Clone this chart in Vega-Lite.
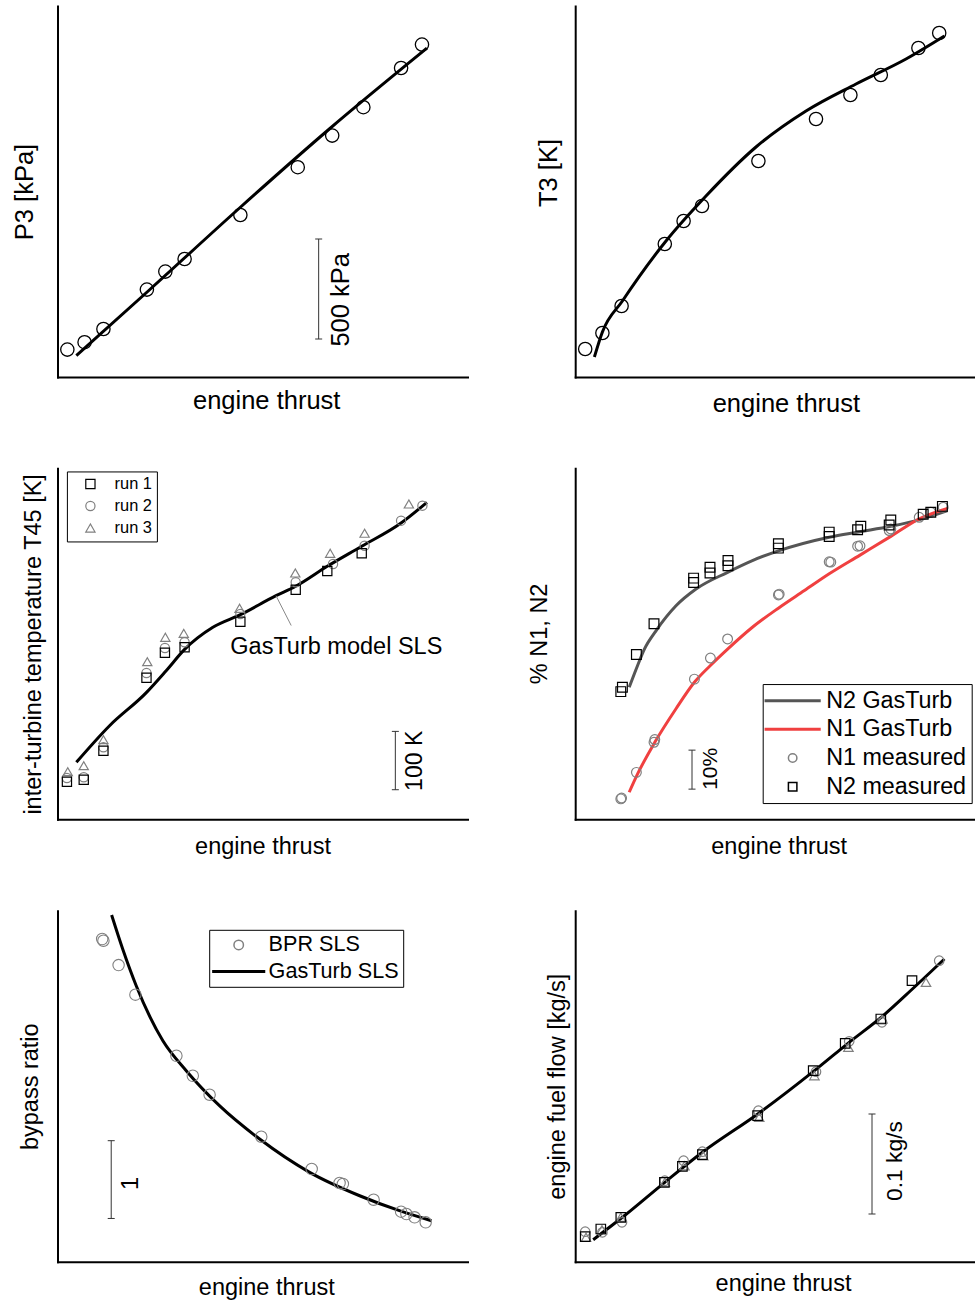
{
  "$schema": "https://vega.github.io/schema/vega-lite/v6.json",
  "padding": {"left": 12.5, "top": 6, "right": 0, "bottom": 0},
  "autosize": {"type": "pad"},
  "config": {
    "view": {"stroke": null},
    "font": "Liberation Sans",
    "axis": {"domainColor": "black", "domainWidth": 2, "domainCap": "square", "ticks": false, "labels": false, "grid": false, "titleFontWeight": "normal", "titleColor": "black", "titleFont": "Liberation Sans", "titleFontSize": 23.5},
    "legend": {"labelFont": "Liberation Sans", "labelColor": "black", "strokeColor": "black", "fillColor": "white"},
    "text": {"font": "Liberation Sans", "color": "black"}
  },
  "datasets": {
    "p1_meas": [{"thrust":2.4,"value":137},{"thrust":6.6,"value":174},{"thrust":11.2,"value":240},{"thrust":21.8,"value":437},{"thrust":26.3,"value":527},{"thrust":31.0,"value":590},{"thrust":44.6,"value":810},{"thrust":58.6,"value":1049},{"thrust":67.0,"value":1207},{"thrust":74.6,"value":1349},{"thrust":83.8,"value":1545},{"thrust":88.9,"value":1662}],
    "p1_model": [{"thrust":4.6,"value":107},{"thrust":22.4,"value":435},{"thrust":44.4,"value":845},{"thrust":66.3,"value":1240},{"thrust":90.1,"value":1644}],
    "p1_bar": [{"thrust":63.7,"value":190},{"thrust":63.7,"value":690}],
    "p1_label": [{"thrust":69.2,"value":386,"label":"500 kPa"}],
    "p2_meas": [{"thrust":2.5,"value":528},{"thrust":6.8,"value":544},{"thrust":11.6,"value":571},{"thrust":22.4,"value":633},{"thrust":27.1,"value":656},{"thrust":31.7,"value":671},{"thrust":45.8,"value":716},{"thrust":60.2,"value":758},{"thrust":68.8,"value":782},{"thrust":76.4,"value":802},{"thrust":85.8,"value":829},{"thrust":91.0,"value":844}],
    "p2_model": [{"thrust":4.8,"value":520},{"thrust":6.8,"value":545},{"thrust":11.8,"value":576},{"thrust":22.7,"value":636},{"thrust":32.7,"value":681},{"thrust":45.2,"value":730},{"thrust":57.7,"value":766},{"thrust":70.2,"value":793},{"thrust":82.7,"value":818},{"thrust":92.3,"value":841}],
    "p3_meas": [
      {"thrust":2.3,"value":668.6,"run":"run 2"},{"thrust":6.4,"value":669.8,"run":"run 2"},{"thrust":11.2,"value":721.2,"run":"run 2"},{"thrust":21.7,"value":848.6,"run":"run 2"},{"thrust":26.2,"value":891.4,"run":"run 2"},{"thrust":31.0,"value":901.2,"run":"run 2"},{"thrust":44.6,"value":949.7,"run":"run 2"},{"thrust":58.1,"value":1004.1,"run":"run 2"},{"thrust":67.2,"value":1035.4,"run":"run 2"},{"thrust":74.9,"value":1066.8,"run":"run 2"},{"thrust":83.8,"value":1109.7,"run":"run 2"},{"thrust":89.0,"value":1135.4,"run":"run 2"},
      {"thrust":2.5,"value":679.4,"run":"run 3"},{"thrust":6.4,"value":689.7,"run":"run 3"},{"thrust":11.2,"value":734.2,"run":"run 3"},{"thrust":21.9,"value":867.9,"run":"run 3"},{"thrust":26.3,"value":909.8,"run":"run 3"},{"thrust":30.8,"value":916.6,"run":"run 3"},{"thrust":44.4,"value":959.5,"run":"run 3"},{"thrust":58.0,"value":1020,"run":"run 3"},{"thrust":66.5,"value":1053.8,"run":"run 3"},{"thrust":74.9,"value":1088.1,"run":"run 3"},{"thrust":85.7,"value":1138.3,"run":"run 3"},
      {"thrust":2.3,"value":662.2,"run":"run 1"},{"thrust":6.4,"value":665.7,"run":"run 1"},{"thrust":11.2,"value":715.4,"run":"run 1"},{"thrust":21.7,"value":840.5,"run":"run 1"},{"thrust":26.2,"value":883.4,"run":"run 1"},{"thrust":31.0,"value":892.6,"run":"run 1"},{"thrust":44.6,"value":936.5,"run":"run 1"},{"thrust":58.1,"value":991.4,"run":"run 1"},{"thrust":65.8,"value":1023.4,"run":"run 1"},{"thrust":74.2,"value":1053.8,"run":"run 1"}
    ],
    "p3_model": [{"thrust":4.6,"value":695.5},{"thrust":12.7,"value":758.2},{"thrust":21.6,"value":814.5},{"thrust":26.5,"value":852.5},{"thrust":31.0,"value":889.0},{"thrust":37.9,"value":926.9},{"thrust":44.6,"value":948.5},{"thrust":53.3,"value":981.1},{"thrust":58.1,"value":997.2},{"thrust":65.8,"value":1031.5},{"thrust":74.2,"value":1065.8},{"thrust":83.8,"value":1105.7},{"thrust":90.1,"value":1141.2}],
    "p3_leader": [{"thrust":53.3,"value":981},{"thrust":57.0,"value":930}],
    "p3_bar": [{"thrust":82.4,"value":648.5},{"thrust":82.4,"value":748.5}],
    "p3_label": [{"thrust":87.1,"value":698,"label":"100 K"}],
    "p3_note": [{"thrust":68.0,"value":894,"label":"GasTurb model SLS"}],
    "p4_model": [
      {"thrust":13.5,"value":43.5,"series":"N2 GasTurb"},{"thrust":15.6,"value":49.1,"series":"N2 GasTurb"},{"thrust":17.3,"value":53.3,"series":"N2 GasTurb"},{"thrust":20.2,"value":58.0,"series":"N2 GasTurb"},{"thrust":25.2,"value":64.4,"series":"N2 GasTurb"},{"thrust":30.2,"value":68.7,"series":"N2 GasTurb"},{"thrust":38.1,"value":73.0,"series":"N2 GasTurb"},{"thrust":44.3,"value":76.0,"series":"N2 GasTurb"},{"thrust":50.8,"value":78.5,"series":"N2 GasTurb"},{"thrust":63.5,"value":82.0,"series":"N2 GasTurb"},{"thrust":71.2,"value":83.4,"series":"N2 GasTurb"},{"thrust":78.9,"value":84.8,"series":"N2 GasTurb"},{"thrust":86.8,"value":86.7,"series":"N2 GasTurb"},{"thrust":93.1,"value":88.8,"series":"N2 GasTurb"},
      {"thrust":13.5,"value":16.6,"series":"N1 GasTurb"},{"thrust":15.6,"value":21.3,"series":"N1 GasTurb"},{"thrust":19.9,"value":29.4,"series":"N1 GasTurb"},{"thrust":25.2,"value":38.0,"series":"N1 GasTurb"},{"thrust":29.8,"value":44.8,"series":"N1 GasTurb"},{"thrust":33.8,"value":49.1,"series":"N1 GasTurb"},{"thrust":38.1,"value":53.3,"series":"N1 GasTurb"},{"thrust":44.3,"value":58.9,"series":"N1 GasTurb"},{"thrust":50.8,"value":63.8,"series":"N1 GasTurb"},{"thrust":57.3,"value":68.3,"series":"N1 GasTurb"},{"thrust":63.5,"value":72.6,"series":"N1 GasTurb"},{"thrust":71.2,"value":77.4,"series":"N1 GasTurb"},{"thrust":78.9,"value":82.2,"series":"N1 GasTurb"},{"thrust":86.0,"value":86.7,"series":"N1 GasTurb"},{"thrust":93.1,"value":89.4,"series":"N1 GasTurb"}
    ],
    "p4_meas": [
      {"thrust":11.6,"value":15.1,"series":"N1 measured"},{"thrust":11.4,"value":14.9,"series":"N1 measured"},{"thrust":15.3,"value":21.7,"series":"N1 measured"},{"thrust":19.7,"value":29.4,"series":"N1 measured"},{"thrust":19.9,"value":30.1,"series":"N1 measured"},{"thrust":29.8,"value":45.6,"series":"N1 measured"},{"thrust":33.8,"value":51.0,"series":"N1 measured"},{"thrust":38.1,"value":55.9,"series":"N1 measured"},{"thrust":50.8,"value":67.2,"series":"N1 measured"},{"thrust":51.0,"value":67.4,"series":"N1 measured"},{"thrust":63.5,"value":75.7,"series":"N1 measured"},{"thrust":63.9,"value":75.6,"series":"N1 measured"},{"thrust":71.2,"value":79.8,"series":"N1 measured"},{"thrust":70.6,"value":79.7,"series":"N1 measured"},{"thrust":78.9,"value":84.1,"series":"N1 measured"},{"thrust":78.5,"value":83.7,"series":"N1 measured"},{"thrust":86.0,"value":87.1,"series":"N1 measured"},{"thrust":88.9,"value":88.4,"series":"N1 measured"},{"thrust":92.0,"value":89.7,"series":"N1 measured"},
      {"thrust":11.4,"value":42.4,"series":"N2 measured"},{"thrust":11.8,"value":43.5,"series":"N2 measured"},{"thrust":15.3,"value":51.9,"series":"N2 measured"},{"thrust":19.7,"value":59.8,"series":"N2 measured"},{"thrust":29.6,"value":71.5,"series":"N2 measured"},{"thrust":29.6,"value":70.4,"series":"N2 measured"},{"thrust":33.7,"value":74.3,"series":"N2 measured"},{"thrust":33.7,"value":72.8,"series":"N2 measured"},{"thrust":38.2,"value":76.0,"series":"N2 measured"},{"thrust":38.2,"value":74.7,"series":"N2 measured"},{"thrust":50.8,"value":80.3,"series":"N2 measured"},{"thrust":50.8,"value":79.2,"series":"N2 measured"},{"thrust":63.5,"value":83.3,"series":"N2 measured"},{"thrust":63.5,"value":82.2,"series":"N2 measured"},{"thrust":70.6,"value":83.9,"series":"N2 measured"},{"thrust":71.4,"value":84.8,"series":"N2 measured"},{"thrust":78.9,"value":86.4,"series":"N2 measured"},{"thrust":78.5,"value":85.1,"series":"N2 measured"},{"thrust":87.0,"value":87.9,"series":"N2 measured"},{"thrust":88.9,"value":88.4,"series":"N2 measured"},{"thrust":91.8,"value":89.9,"series":"N2 measured"}
    ],
    "p4_bar": [{"thrust":29.2,"value":17.4},{"thrust":29.2,"value":27.4}],
    "p4_label": [{"thrust":33.9,"value":22.6,"label":"10%"}],
    "p5_meas": [{"thrust":11.2,"value":6.131,"series":"BPR SLS"},{"thrust":10.9,"value":6.153,"series":"BPR SLS"},{"thrust":14.9,"value":5.818,"series":"BPR SLS"},{"thrust":19.0,"value":5.437,"series":"BPR SLS"},{"thrust":29.0,"value":4.652,"series":"BPR SLS"},{"thrust":33.0,"value":4.395,"series":"BPR SLS"},{"thrust":37.1,"value":4.151,"series":"BPR SLS"},{"thrust":49.7,"value":3.611,"series":"BPR SLS"},{"thrust":62.0,"value":3.196,"series":"BPR SLS"},{"thrust":69.6,"value":3.003,"series":"BPR SLS"},{"thrust":68.8,"value":3.016,"series":"BPR SLS"},{"thrust":77.1,"value":2.801,"series":"BPR SLS"},{"thrust":83.8,"value":2.647,"series":"BPR SLS"},{"thrust":85.1,"value":2.617,"series":"BPR SLS"},{"thrust":87.1,"value":2.575,"series":"BPR SLS"},{"thrust":89.8,"value":2.51,"series":"BPR SLS"}],
    "p5_model": [{"thrust":13.2,"value":6.461},{"thrust":15.9,"value":6.024},{"thrust":19.2,"value":5.552},{"thrust":25.7,"value":4.845},{"thrust":31.4,"value":4.46},{"thrust":39.5,"value":4.01},{"thrust":49.3,"value":3.581},{"thrust":61.5,"value":3.153},{"thrust":73.7,"value":2.852},{"thrust":83.4,"value":2.66},{"thrust":91.2,"value":2.531}],
    "p5_bar": [{"thrust":13.1,"value":2.56},{"thrust":13.1,"value":3.56}],
    "p5_label": [{"thrust":18.0,"value":3.01,"label":"1"}],
    "p6_meas": [
      {"thrust":2.5,"value":0.0803,"run":"run 2"},{"thrust":6.8,"value":0.0797,"run":"run 2"},{"thrust":11.7,"value":0.0897,"run":"run 2"},{"thrust":22.4,"value":0.1313,"run":"run 2"},{"thrust":27.1,"value":0.1513,"run":"run 2"},{"thrust":31.8,"value":0.1603,"run":"run 2"},{"thrust":45.8,"value":0.2013,"run":"run 2"},{"thrust":60.2,"value":0.2403,"run":"run 2"},{"thrust":68.5,"value":0.2707,"run":"run 2"},{"thrust":76.7,"value":0.2897,"run":"run 2"},{"thrust":91.0,"value":0.3513,"run":"run 2"},
      {"thrust":2.7,"value":0.0747,"run":"run 3"},{"thrust":6.7,"value":0.0823,"run":"run 3"},{"thrust":11.4,"value":0.0947,"run":"run 3"},{"thrust":22.4,"value":0.1297,"run":"run 3"},{"thrust":27.3,"value":0.1463,"run":"run 3"},{"thrust":32.0,"value":0.1563,"run":"run 3"},{"thrust":46.0,"value":0.1947,"run":"run 3"},{"thrust":59.8,"value":0.2363,"run":"run 3"},{"thrust":68.3,"value":0.2647,"run":"run 3"},{"thrust":76.8,"value":0.293,"run":"run 3"},{"thrust":87.7,"value":0.3297,"run":"run 3"},
      {"thrust":2.5,"value":0.0753,"run":"run 1"},{"thrust":6.4,"value":0.083,"run":"run 1"},{"thrust":11.4,"value":0.0947,"run":"run 1"},{"thrust":22.3,"value":0.1297,"run":"run 1"},{"thrust":26.8,"value":0.1457,"run":"run 1"},{"thrust":31.8,"value":0.1573,"run":"run 1"},{"thrust":45.6,"value":0.1963,"run":"run 1"},{"thrust":59.5,"value":0.2413,"run":"run 1"},{"thrust":67.5,"value":0.2687,"run":"run 1"},{"thrust":76.4,"value":0.293,"run":"run 1"},{"thrust":84.2,"value":0.3313,"run":"run 1"}
    ],
    "p6_model": [{"thrust":4.5,"value":0.0723},{"thrust":11.8,"value":0.0947},{"thrust":22.7,"value":0.1307},{"thrust":31.8,"value":0.1597},{"thrust":46.0,"value":0.199},{"thrust":59.8,"value":0.2413},{"thrust":68.5,"value":0.2697},{"thrust":76.8,"value":0.2957},{"thrust":84.3,"value":0.323},{"thrust":92.3,"value":0.353}],
    "p6_bar": [{"thrust":74.2,"value":0.098},{"thrust":74.2,"value":0.198}],
    "p6_label": [{"thrust":80.0,"value":0.151,"label":"0.1 kg/s"}]
  },
  "columns": 2,
  "spacing": {"row": 91.35, "column": 107.7},
  "bounds": "flush",
  "resolve": {"scale": {"color": "independent", "shape": "independent", "stroke": "independent"}, "legend": {"color": "independent", "shape": "independent", "stroke": "independent"}},
  "concat": [
    {
      "width": 410, "height": 371,
      "encoding": {
        "x": {"field": "thrust", "type": "quantitative", "scale": {"domain": [0, 100], "nice": false, "zero": false}, "axis": {"title": "engine thrust", "titleFontSize": 25.5, "titlePadding": 11, "titleX": 208.7}},
        "y": {"field": "value", "type": "quantitative", "scale": {"domain": [0, 1855], "nice": false, "zero": false}, "axis": {"title": "P3 [kPa]", "titleFontSize": 25.5, "titlePadding": 20}}
      },
      "layer": [
        {"data": {"name": "p1_model"}, "mark": {"type": "line", "color": "black", "strokeWidth": 3, "interpolate": "monotone"}},
        {"data": {"name": "p1_meas"}, "mark": {"type": "point", "shape": "circle", "filled": false, "color": "black", "size": 177, "strokeWidth": 1.3, "opacity": 1}},
        {"data": {"name": "p1_bar"}, "mark": {"type": "line", "color": "#333333", "strokeWidth": 1}},
        {"data": {"name": "p1_bar"}, "mark": {"type": "tick", "orient": "horizontal", "color": "#333333", "size": 7, "thickness": 1, "opacity": 1}},
        {"data": {"name": "p1_label"}, "mark": {"type": "text", "angle": 270, "fontSize": 25.5, "align": "center", "baseline": "middle"}, "encoding": {"text": {"field": "label", "type": "nominal"}}}
      ]
    },
    {
      "width": 399, "height": 371,
      "encoding": {
        "x": {"field": "thrust", "type": "quantitative", "scale": {"domain": [0, 99.75], "nice": false, "zero": false}, "axis": {"title": "engine thrust", "titleFontSize": 25.5, "titlePadding": 14.4, "titleX": 210.7}},
        "y": {"field": "value", "type": "quantitative", "scale": {"domain": [500, 871], "nice": false, "zero": false}, "axis": {"title": "T3 [K]", "titleFontSize": 25.5, "titlePadding": 14, "titleY": 166.5}}
      },
      "layer": [
        {"data": {"name": "p2_model"}, "mark": {"type": "line", "color": "black", "strokeWidth": 3, "interpolate": "monotone"}},
        {"data": {"name": "p2_meas"}, "mark": {"type": "point", "shape": "circle", "filled": false, "color": "black", "size": 177, "strokeWidth": 1.3, "opacity": 1}}
      ]
    },
    {
      "width": 410, "height": 351,
      "encoding": {
        "x": {"field": "thrust", "type": "quantitative", "scale": {"domain": [0, 100], "nice": false, "zero": false}, "axis": {"title": "engine thrust", "titlePadding": 14.7}},
        "y": {"field": "value", "type": "quantitative", "scale": {"domain": [597.7, 1199.4], "nice": false, "zero": false}, "axis": {"title": "inter-turbine temperature T45 [K]", "titlePadding": 12.4}}
      },
      "layer": [
        {"data": {"name": "p3_model"}, "mark": {"type": "line", "color": "black", "strokeWidth": 3, "interpolate": "monotone"}},
        {"data": {"name": "p3_leader"}, "mark": {"type": "line", "color": "#888888", "strokeWidth": 1}},
        {"data": {"name": "p3_meas"}, "mark": {"type": "point", "filled": false, "size": 85, "strokeWidth": 1.2, "opacity": 1},
          "encoding": {
            "color": {"field": "run", "type": "nominal", "scale": {"domain": ["run 1", "run 2", "run 3"], "range": ["black", "#808080", "#808080"]},
              "legend": {"title": null, "orient": "none", "legendX": 9.4, "legendY": 3.1, "padding": 4.4, "labelFontSize": 16.4, "symbolSize": 85, "symbolOffset": 10.9, "labelOffset": 16, "rowPadding": 5, "symbolStrokeWidth": 1.2}},
            "shape": {"field": "run", "type": "nominal", "scale": {"domain": ["run 1", "run 2", "run 3"], "range": ["square", "circle", "triangle-up"]},
              "legend": {"title": null, "orient": "none", "legendX": 9.4, "legendY": 3.1, "padding": 4.4, "labelFontSize": 16.4, "symbolSize": 85, "symbolOffset": 10.9, "labelOffset": 16, "rowPadding": 5, "symbolStrokeWidth": 1.2}}
          }},
        {"data": {"name": "p3_bar"}, "mark": {"type": "line", "color": "#333333", "strokeWidth": 1}},
        {"data": {"name": "p3_bar"}, "mark": {"type": "tick", "orient": "horizontal", "color": "#333333", "size": 7, "thickness": 1, "opacity": 1}},
        {"data": {"name": "p3_label"}, "mark": {"type": "text", "angle": 270, "fontSize": 23, "align": "center", "baseline": "middle"}, "encoding": {"text": {"field": "label", "type": "nominal"}}},
        {"data": {"name": "p3_note"}, "mark": {"type": "text", "fontSize": 23.5, "align": "center", "baseline": "middle"}, "encoding": {"text": {"field": "label", "type": "nominal"}}}
      ]
    },
    {
      "width": 399, "height": 351,
      "encoding": {
        "x": {"field": "thrust", "type": "quantitative", "scale": {"domain": [0, 99.75], "nice": false, "zero": false}, "axis": {"title": "engine thrust", "titlePadding": 14.7, "titleX": 203.5}},
        "y": {"field": "value", "type": "quantitative", "scale": {"domain": [9.65, 99.65], "nice": false, "zero": false}, "axis": {"title": "% N1, N2", "titlePadding": 23.7, "titleY": 165}}
      },
      "layer": [
        {"data": {"name": "p4_model"}, "mark": {"type": "line", "strokeWidth": 3, "interpolate": "monotone"},
          "encoding": {
            "stroke": {"field": "series", "type": "nominal", "scale": {"domain": ["N2 GasTurb", "N1 GasTurb"], "range": ["#555555", "#f04040"]}, "legend": null}
          }},
        {"data": {"name": "p4_meas"}, "mark": {"type": "point", "filled": false, "size": 95, "strokeWidth": 1.2, "opacity": 1},
          "encoding": {
            "color": {"field": "series", "type": "nominal", "scale": {"domain": ["N2 GasTurb", "N1 GasTurb", "N1 measured", "N2 measured"], "range": ["#555555", "#f04040", "#808080", "black"]},
              "legend": {"title": null, "orient": "none", "legendX": 187.5, "legendY": 215.7, "padding": 5, "labelFontSize": 23.3, "symbolSize": 72, "symbolOffset": 13.3, "labelOffset": 21.9, "rowPadding": 4.67, "symbolStrokeWidth": 1.5}},
            "shape": {"field": "series", "type": "nominal", "scale": {"domain": ["N2 GasTurb", "N1 GasTurb", "N1 measured", "N2 measured"], "range": ["M-6.44,-0.177L6.44,-0.177L6.44,0.177L-6.44,0.177Z", "M-6.44,-0.177L6.44,-0.177L6.44,0.177L-6.44,0.177Z", "circle", "square"]},
              "legend": {"title": null, "orient": "none", "legendX": 187.5, "legendY": 215.7, "padding": 5, "labelFontSize": 23.3, "symbolSize": 72, "symbolOffset": 13.3, "labelOffset": 21.9, "rowPadding": 4.67, "symbolStrokeWidth": 1.5}}
          }},
        {"data": {"name": "p4_bar"}, "mark": {"type": "line", "color": "#333333", "strokeWidth": 1}},
        {"data": {"name": "p4_bar"}, "mark": {"type": "tick", "orient": "horizontal", "color": "#333333", "size": 7, "thickness": 1, "opacity": 1}},
        {"data": {"name": "p4_label"}, "mark": {"type": "text", "angle": 270, "fontSize": 21, "align": "center", "baseline": "middle"}, "encoding": {"text": {"field": "label", "type": "nominal"}}}
      ]
    },
    {
      "width": 410, "height": 351,
      "encoding": {
        "x": {"field": "thrust", "type": "quantitative", "scale": {"domain": [0, 100], "nice": false, "zero": false}, "axis": {"title": "engine thrust", "titlePadding": 14, "titleX": 208.8}},
        "y": {"field": "value", "type": "quantitative", "scale": {"domain": [2.004, 6.517], "nice": false, "zero": false}, "axis": {"title": "bypass ratio", "titlePadding": 15}}
      },
      "layer": [
        {"data": {"name": "p5_model"}, "mark": {"type": "line", "color": "black", "strokeWidth": 3, "interpolate": "monotone"}},
        {"data": {"name": "p5_meas"}, "mark": {"type": "point", "filled": false, "size": 130, "strokeWidth": 1.1, "opacity": 1},
          "encoding": {
            "color": {"field": "series", "type": "nominal", "scale": {"domain": ["BPR SLS", "GasTurb SLS"], "range": ["#808080", "black"]},
              "legend": {"title": null, "orient": "none", "legendX": 151.7, "legendY": 19.1, "padding": 4.3, "labelFontSize": 21.6, "symbolSize": 90, "symbolOffset": 14.4, "labelOffset": 19.1, "rowPadding": 3.7, "symbolStrokeWidth": 1.5}},
            "shape": {"field": "series", "type": "nominal", "scale": {"domain": ["BPR SLS", "GasTurb SLS"], "range": ["circle", "M-5.44,-0.158L5.44,-0.158L5.44,0.158L-5.44,0.158Z"]},
              "legend": {"title": null, "orient": "none", "legendX": 151.7, "legendY": 19.1, "padding": 4.3, "labelFontSize": 21.6, "symbolSize": 90, "symbolOffset": 14.4, "labelOffset": 19.1, "rowPadding": 3.7, "symbolStrokeWidth": 1.5}}
          }},
        {"data": {"name": "p5_bar"}, "mark": {"type": "line", "color": "#333333", "strokeWidth": 1}},
        {"data": {"name": "p5_bar"}, "mark": {"type": "tick", "orient": "horizontal", "color": "#333333", "size": 7, "thickness": 1, "opacity": 1}},
        {"data": {"name": "p5_label"}, "mark": {"type": "text", "angle": 270, "fontSize": 23.5, "align": "center", "baseline": "middle"}, "encoding": {"text": {"field": "label", "type": "nominal"}}}
      ]
    },
    {
      "width": 399, "height": 351,
      "encoding": {
        "x": {"field": "thrust", "type": "quantitative", "scale": {"domain": [0, 99.75], "nice": false, "zero": false}, "axis": {"title": "engine thrust", "titlePadding": 9.3, "titleX": 207.8}},
        "y": {"field": "value", "type": "quantitative", "scale": {"domain": [0.0503, 0.4013], "nice": false, "zero": false}, "axis": {"title": "engine fuel flow [kg/s]", "titlePadding": 6}}
      },
      "layer": [
        {"data": {"name": "p6_model"}, "mark": {"type": "line", "color": "black", "strokeWidth": 3, "interpolate": "monotone"}},
        {"data": {"name": "p6_meas"}, "mark": {"type": "point", "filled": false, "size": 90, "strokeWidth": 1.2, "opacity": 1},
          "encoding": {
            "color": {"field": "run", "type": "nominal", "scale": {"domain": ["run 1", "run 2", "run 3"], "range": ["black", "#808080", "#808080"]}, "legend": null},
            "shape": {"field": "run", "type": "nominal", "scale": {"domain": ["run 1", "run 2", "run 3"], "range": ["square", "circle", "triangle-up"]}, "legend": null}
          }},
        {"data": {"name": "p6_bar"}, "mark": {"type": "line", "color": "#333333", "strokeWidth": 1}},
        {"data": {"name": "p6_bar"}, "mark": {"type": "tick", "orient": "horizontal", "color": "#333333", "size": 7, "thickness": 1, "opacity": 1}},
        {"data": {"name": "p6_label"}, "mark": {"type": "text", "angle": 270, "fontSize": 22.8, "align": "center", "baseline": "middle"}, "encoding": {"text": {"field": "label", "type": "nominal"}}}
      ]
    }
  ]
}
